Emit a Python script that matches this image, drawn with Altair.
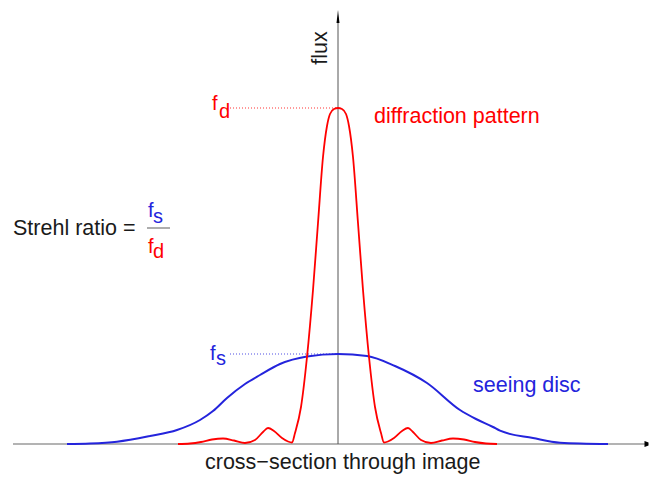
import altair as alt
import pandas as pd

# ---- data (x: offset from image centre, flux in arbitrary units) ----
red_x = [-160, -148, -137, -126, -115, -104, -93, -83, -75, -70, -64, -56, -50, -46, -43,
         -37, -31, -25, -20, -15, -11, -8, -4, 0, 4, 8, 11, 15, 20, 25, 31, 37,
         43, 46, 50, 56, 64, 70, 75, 83, 93, 104, 115, 126, 137, 148, 159]
red_flux = [0, 0.5, 2, 4.5, 5.5, 3.5, 1, 4, 12, 16, 13, 6, 2.5, 1.5, 11,
            37, 87, 154, 221, 287, 318, 330, 335, 336, 335, 330, 318, 287, 221, 154, 87, 37,
            11, 1.5, 2.5, 6, 13, 16, 12, 4, 1, 3.5, 5.5, 4.5, 2, 0.5, 0]

blue_x = [-271, -248, -221, -188, -161, -138, -125, -111, -93, -78, -58, -31, 0,
          29, 57, 89, 122, 138, 155, 162, 195, 222, 270]
blue_flux = [0, 0.5, 2.3, 8, 14, 24, 33, 46, 60, 69, 80, 87.5, 90,
             88, 78, 61, 34, 25, 17, 13.3, 6, 1.3, 0]

peak_diffraction = 336
peak_seeing = 90

RED = "#ff0000"
BLUE = "#2424dc"
INK = "#1a1a1a"
FONT = "Liberation Sans"

xs = alt.Scale(domain=[-330, 311], nice=False, zero=False)
ys = alt.Scale(domain=[-33, 436], nice=False, zero=False)


def X(field="x"):
    return alt.X(f"{field}:Q", scale=xs, axis=None)


def Y(field="y"):
    return alt.Y(f"{field}:Q", scale=ys, axis=None)


# axes
x_axis = alt.Chart(pd.DataFrame({"x": [-325], "x2": [307], "y": [0]})).mark_rule(
    color="#9a9a9a", strokeWidth=1.6
).encode(x=X(), x2="x2:Q", y=Y())

y_axis = alt.Chart(pd.DataFrame({"x": [0], "y": [0], "y2": [421]})).mark_rule(
    color="#555555", strokeWidth=1
).encode(x=X(), y=Y(), y2="y2:Q")

y_arrow = alt.Chart(pd.DataFrame({"x": [0], "y": [427.5]})).mark_point(
    shape="M0,-1L0.23,1L-0.23,1Z", size=169, filled=True, color="black", opacity=1
).encode(x=X(), y=Y())

x_arrow = alt.Chart(pd.DataFrame({"x": [308.5], "y": [0]})).mark_point(
    shape="M-0.67,-1L0.67,-0.5L0.67,0.5L-0.67,1Z", size=36, filled=True, color="black", opacity=1
).encode(x=X(), y=Y())

# dotted reference lines to the peaks
ref = pd.DataFrame({"x": [-108, -108], "x2": [0, 0],
                    "y": [peak_diffraction, peak_seeing], "c": [RED, BLUE]})
ref_lines = alt.Chart(ref).mark_rule(strokeDash=[1, 2], strokeWidth=1, opacity=0.8).encode(
    x=X(), x2="x2:Q", y=Y(), color=alt.Color("c:N", scale=None)
)

# curves
blue_line = alt.Chart(pd.DataFrame({"x": blue_x, "y": blue_flux})).mark_line(
    color=BLUE, strokeWidth=2, interpolate="monotone"
).encode(x=X(), y=Y(), order="x:Q")

red_line = alt.Chart(pd.DataFrame({"x": red_x, "y": red_flux})).mark_line(
    color=RED, strokeWidth=1.8, interpolate="monotone"
).encode(x=X(), y=Y(), order="x:Q")

# fraction bar
frac_bar = alt.Chart(pd.DataFrame({"x": [-191], "x2": [-168], "y": [216]})).mark_rule(
    color="#777777", strokeWidth=1.2
).encode(x=X(), x2="x2:Q", y=Y())

# text labels
labels = pd.DataFrame({
    "text": ["diffraction pattern", "seeing disc", "cross\u2212section through image",
             "Strehl ratio =",
             "f", "d", "f", "s",
             "f", "s", "f", "d"],
    "x": [36, 135, -133, -325,
          -126, -119, -128, -122,
          -190, -185, -190, -185],
    "y": [321, 52, -25, 209,
          334, 326, 84, 79,
          227, 221.5, 190.7, 185.7],
    "c": [RED, BLUE, INK, INK,
          RED, RED, BLUE, BLUE,
          BLUE, BLUE, RED, RED],
    "s": [21.5, 21.5, 21.5, 21.5,
          20, 20, 20, 20,
          20, 20, 20, 20],
})
text_layer = alt.Chart(labels).mark_text(
    align="left", baseline="alphabetic", font=FONT
).encode(
    x=X(), y=Y(), text="text:N",
    color=alt.Color("c:N", scale=None),
    size=alt.Size("s:Q", scale=None),
)

flux_label = alt.Chart(pd.DataFrame({"x": [-11], "y": [396], "t": ["flux"]})).mark_text(
    angle=270, align="center", baseline="alphabetic", font=FONT, fontSize=21.5, color=INK
).encode(x=X(), y=Y(), text="t:N")

chart = alt.layer(
    x_axis, y_axis, y_arrow, x_arrow, ref_lines, blue_line, red_line, frac_bar,
    text_layer, flux_label
).properties(
    width=641, height=469, padding=0, autosize="none"
).configure_view(stroke=None)

chart.save("out.html", embed_options={"renderer": "svg", "actions": False})
